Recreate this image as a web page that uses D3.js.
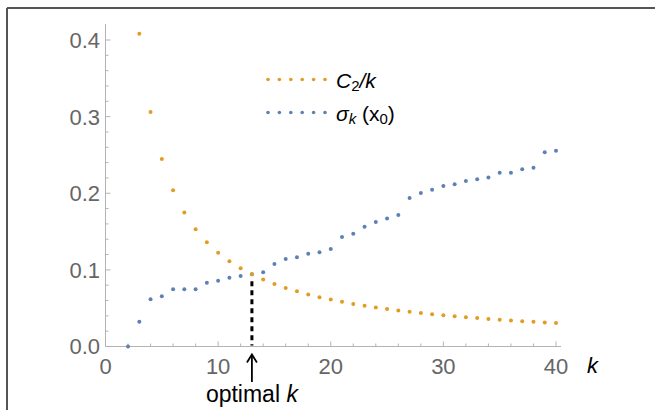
<!DOCTYPE html>
<html>
<head>
<meta charset="utf-8">
<script src="https://cdn.jsdelivr.net/npm/d3@7"></script>
<style>
  body { margin: 0; background: #fff; }
  svg { display: block; font-family: "Liberation Sans", Arial, sans-serif; }
</style>
</head>
<body>
<svg width="655" height="410"></svg>
<script>
// k values for each series
const kOrange = [3,4,5,6,7,8,9,10,11,12,13,14,15,16,17,18,19,20,21,22,23,24,25,26,27,28,29,30,31,32,33,34,35,36,37,38,39,40];
const c2OverK = [0.408,0.306,0.2448,0.204,0.1749,0.153,0.136,0.1224,0.1113,0.102,0.0942,0.0874,0.0816,0.0765,0.072,0.068,0.0644,0.0612,0.0583,0.0556,0.0532,0.051,0.049,0.0471,0.0453,0.0437,0.0422,0.0408,0.0395,0.0383,0.0371,0.036,0.035,0.034,0.0331,0.0322,0.0314,0.0306];

const kBlue = [2,3,4,5,6,7,8,9,10,11,12,13,14,15,16,17,18,19,20,21,22,23,24,25,26,27,28,29,30,31,32,33,34,35,36,37,38,39,40];
const sigmaK = [0,0.0324,0.0616,0.0655,0.0747,0.0747,0.0747,0.0833,0.0859,0.0898,0.092,0.0944,0.0968,0.1077,0.1142,0.1164,0.1212,0.123,0.1273,0.143,0.1473,0.1564,0.1625,0.1669,0.1717,0.1939,0.2004,0.2047,0.2095,0.2117,0.216,0.2182,0.2204,0.2269,0.2269,0.2313,0.2334,0.2535,0.2556];

const xTicks = [0, 10, 20, 30, 40];
const yTicks = [0, 0.1, 0.2, 0.3, 0.4];
const optimalK = 13;

const orange = "#e19c24", blue = "#5e81b5", axisGrey = "#b3b3b3", labelGrey = "#666";

const svg = d3.select("svg");

// frame lines (left and top only)
svg.append("line").attr("x1", 7).attr("x2", 7).attr("y1", 8).attr("y2", 410)
  .attr("stroke", "#555").attr("stroke-width", 2);
svg.append("line").attr("x1", 7).attr("x2", 655).attr("y1", 8).attr("y2", 8)
  .attr("stroke", "#555").attr("stroke-width", 2);

const x = d3.scaleLinear().domain([0, 40]).range([105.5, 556]);
const y = d3.scaleLinear().domain([0, 0.4]).range([346.5, 40]);

// axis lines
svg.append("line").attr("x1", x(0)).attr("x2", 561).attr("y1", y(0)).attr("y2", y(0))
  .attr("stroke", axisGrey);
svg.append("line").attr("x1", x(0)).attr("x2", x(0)).attr("y1", y(0)).attr("y2", 24)
  .attr("stroke", axisGrey);

// x ticks: major every 10, minor every 2, pointing inward
const xMinor = d3.range(0, 41, 2);
svg.selectAll(".xt").data(xMinor).enter().append("line")
  .attr("x1", d => x(d)).attr("x2", d => x(d))
  .attr("y1", y(0)).attr("y2", d => y(0) - (d % 10 === 0 ? 5 : 3))
  .attr("stroke", axisGrey);

// y ticks: major every 0.1, minor every 0.02
const yMinor = d3.range(0, 21).map(i => i * 0.02);
svg.selectAll(".yt").data(yMinor).enter().append("line")
  .attr("x1", x(0)).attr("x2", (d, i) => x(0) + (i % 5 === 0 ? 5 : 3))
  .attr("y1", d => y(d)).attr("y2", d => y(d))
  .attr("stroke", axisGrey);

// tick labels
svg.selectAll(".xl").data(xTicks).enter().append("text")
  .attr("x", d => x(d)).attr("y", 374)
  .attr("text-anchor", "middle").attr("fill", labelGrey)
  .style("font-size", "22px").text(d => d);

svg.selectAll(".yl").data(yTicks).enter().append("text")
  .attr("x", 100).attr("y", d => y(d)).attr("dy", "0.36em")
  .attr("text-anchor", "end").attr("fill", labelGrey)
  .style("font-size", "22px").text(d => d3.format(".1f")(d));

// axis label k
svg.append("text").attr("x", 587).attr("y", 373)
  .style("font-size", "22px").style("font-style", "italic").text("k");

// optimal k marker
svg.append("line").attr("x1", x(optimalK)).attr("x2", x(optimalK))
  .attr("y1", y(0.0942) + 7).attr("y2", y(0) - 1)
  .attr("stroke", "#000").attr("stroke-width", 3).attr("stroke-dasharray", "5,4");

svg.append("line").attr("x1", x(optimalK)).attr("x2", x(optimalK))
  .attr("y1", 355).attr("y2", 382)
  .attr("stroke", "#000").attr("stroke-width", 1.8);
svg.append("path")
  .attr("d", `M${x(optimalK) - 5},${362.5} L${x(optimalK)},${354.5} L${x(optimalK) + 5},${362.5}`)
  .attr("fill", "none").attr("stroke", "#000").attr("stroke-width", 1.8);

svg.append("text").attr("x", x(optimalK)).attr("y", 402)
  .attr("text-anchor", "middle").style("font-size", "23px")
  .html('optimal <tspan font-style="italic">k</tspan>');

// data points
svg.selectAll(".pb").data(kBlue).enter().append("circle")
  .attr("cx", d => x(d)).attr("cy", (d, i) => y(sigmaK[i]))
  .attr("r", 2).attr("fill", blue);

svg.selectAll(".po").data(kOrange).enter().append("circle")
  .attr("cx", d => x(d)).attr("cy", (d, i) => y(c2OverK[i]))
  .attr("r", 2).attr("fill", orange);

// legend
const legend = [
  { color: orange, y: 79.5 },
  { color: blue, y: 112.5 }
];
legend.forEach(l => {
  svg.selectAll(null).data(d3.range(6)).enter().append("circle")
    .attr("cx", d => 268 + d * 11.4).attr("cy", l.y)
    .attr("r", 1.8).attr("fill", l.color);
});

const t1 = svg.append("text").attr("x", 336).attr("y", 88).style("font-size", "21px");
t1.append("tspan").style("font-style", "italic").text("C");
t1.append("tspan").attr("dy", 3).style("font-size", "15px").text("2");
t1.append("tspan").attr("dy", -3).style("font-style", "italic").text("/k");

const t2 = svg.append("text").attr("x", 336).attr("y", 121).style("font-size", "21px");
t2.append("tspan").style("font-style", "italic").text("σ");
t2.append("tspan").attr("dy", 3).style("font-size", "15px").style("font-style", "italic").text("k");
t2.append("tspan").attr("dy", -3).text(" (x");
t2.append("tspan").attr("dy", 3).style("font-size", "15px").text("0");
t2.append("tspan").attr("dy", -3).text(")");
</script>
</body>
</html>
